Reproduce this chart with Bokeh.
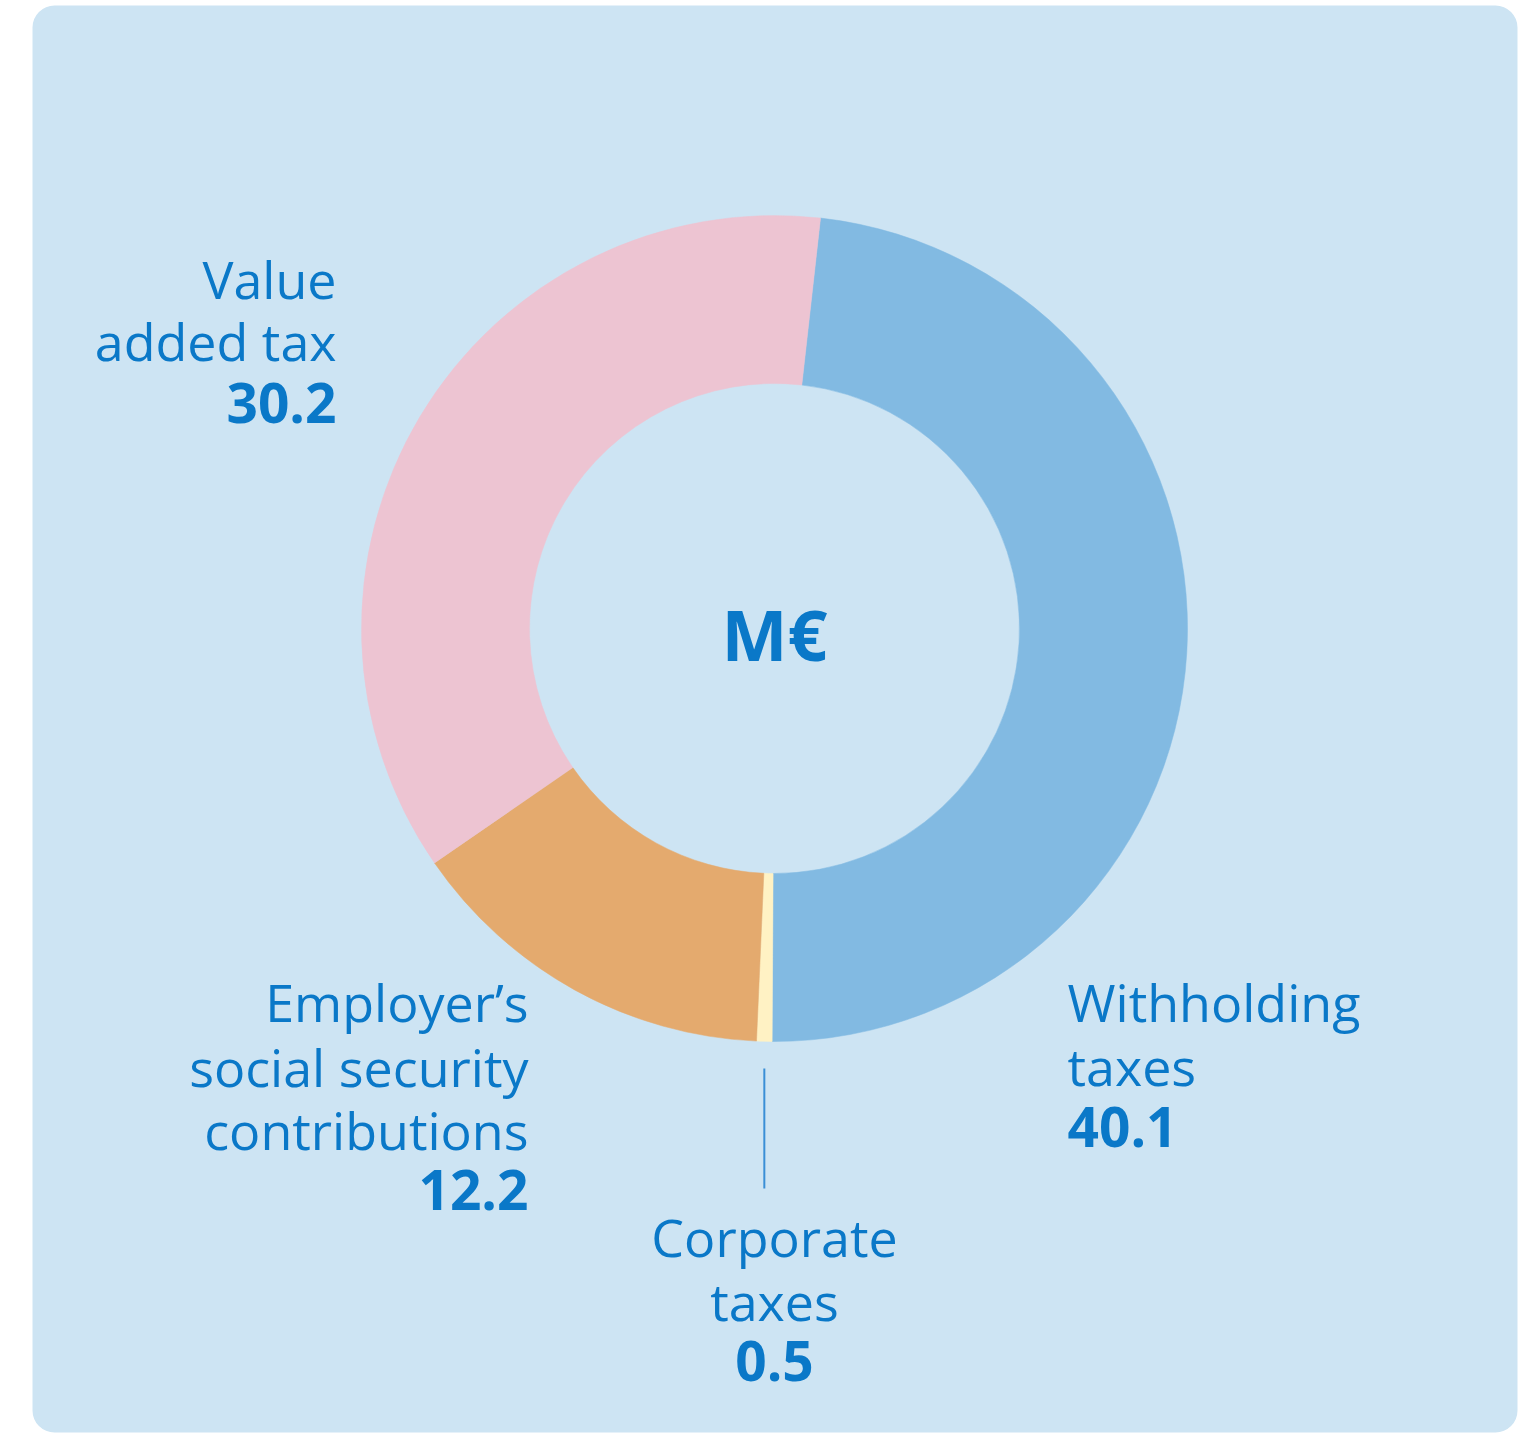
import numpy as np
from bokeh.plotting import figure
from bokeh.models import Range1d, BoxAnnotation, ColumnDataSource
from bokeh.core.properties import value
from bokeh.embed import file_html
from bokeh.resources import INLINE

# ---- data ----
categories = ["Withholding taxes", "Corporate taxes",
              "Employer’s social security contributions", "Value added tax"]
values = [40.1, 0.5, 12.2, 30.2]
label_lines = [["Withholding", "taxes"],
               ["Corporate", "taxes"],
               ["Employer’s", "social security", "contributions"],
               ["Value", "added tax"]]
center_label = "M€"

# ---- style ----
colors = ["#82bae2", "#fff2c4", "#e4aa6e", "#edc4d2"]
BG = "#cde4f3"
TXT = "#0a78c8"
FONT = "Open Sans"

W, H = 1531, 1435
OX, OY = 0, 0


def py(y):
    return OY + H - y


p = figure(width=W, height=H, x_range=Range1d(OX, OX + W), y_range=Range1d(0, H),
           output_backend="svg", toolbar_location=None, min_border=0)
p.axis.visible = False
p.grid.visible = False
p.outline_line_color = None
p.background_fill_color = "white"
p.border_fill_color = "white"

bg = BoxAnnotation(left=32, right=1517, top=py(5), bottom=py(1432),
                   fill_color=BG, fill_alpha=1.0, line_color=None,
                   border_radius=22, level="underlay")
p.add_layout(bg)

# ---- donut ----
CX, CY = 774, py(628)
R_IN, R_OUT = 245, 413
offset = np.deg2rad(90 - 6.4)
total = sum(values)
fr = np.array(values) / total * 2 * np.pi
cum = np.concatenate([[0], np.cumsum(fr)])
starts = offset - cum[:-1]
ends = offset - cum[1:]
src = ColumnDataSource(dict(start=starts, end=ends, color=colors, cat=categories))
p.annular_wedge(x=CX, y=CY, inner_radius=R_IN, outer_radius=R_OUT,
                start_angle="start", end_angle="end", direction="clock",
                fill_color="color", line_color="color", line_width=0.5, source=src)

# leader line for corporate taxes
mid = (starts[1] + ends[1]) / 2
lx = CX + R_OUT * np.cos(mid)
p.segment(x0=[lx], y0=[py(1068)], x1=[lx], y1=[py(1188)],
          line_color="#3a8fd6", line_width=2)

# ---- labels ----
layout = [
    dict(x=1067, align="left", ys=[1023, 1087, 1150]),
    dict(x=774, align="center", ys=[1258, 1322, 1384]),
    dict(x=528, align="right", ys=[1023, 1088, 1151, 1213]),
    dict(x=336, align="right", ys=[300, 362, 426]),
]
FS, FSB, FSC = 52, 55, 70
SHIFT = 0.42  # baseline correction, in em


def tb(y, fs):
    return py(y - SHIFT * fs)


for i, lay in enumerate(layout):
    lines = label_lines[i]
    ys = lay["ys"]
    p.text(x=[lay["x"]] * len(lines), y=[tb(y, FS) for y in ys[:len(lines)]], text=lines,
           text_align=lay["align"], text_baseline="alphabetic",
           text_font=value(FONT), text_font_size=f"{FS}px", text_color=TXT)
    p.text(x=[lay["x"]], y=[tb(ys[-1], FSB)], text=[f"{values[i]:.1f}"],
           text_align=lay["align"], text_baseline="alphabetic",
           text_font=value(FONT), text_font_size=f"{FSB}px", text_font_style="bold",
           text_color=TXT)

p.text(x=[CX], y=[tb(663, FSC)], text=[center_label], text_align="center",
       text_baseline="alphabetic", text_font=value(FONT), text_font_size=f"{FSC}px",
       text_font_style="bold", text_color=TXT)

open("out.html", "w").write(file_html(p, INLINE))
